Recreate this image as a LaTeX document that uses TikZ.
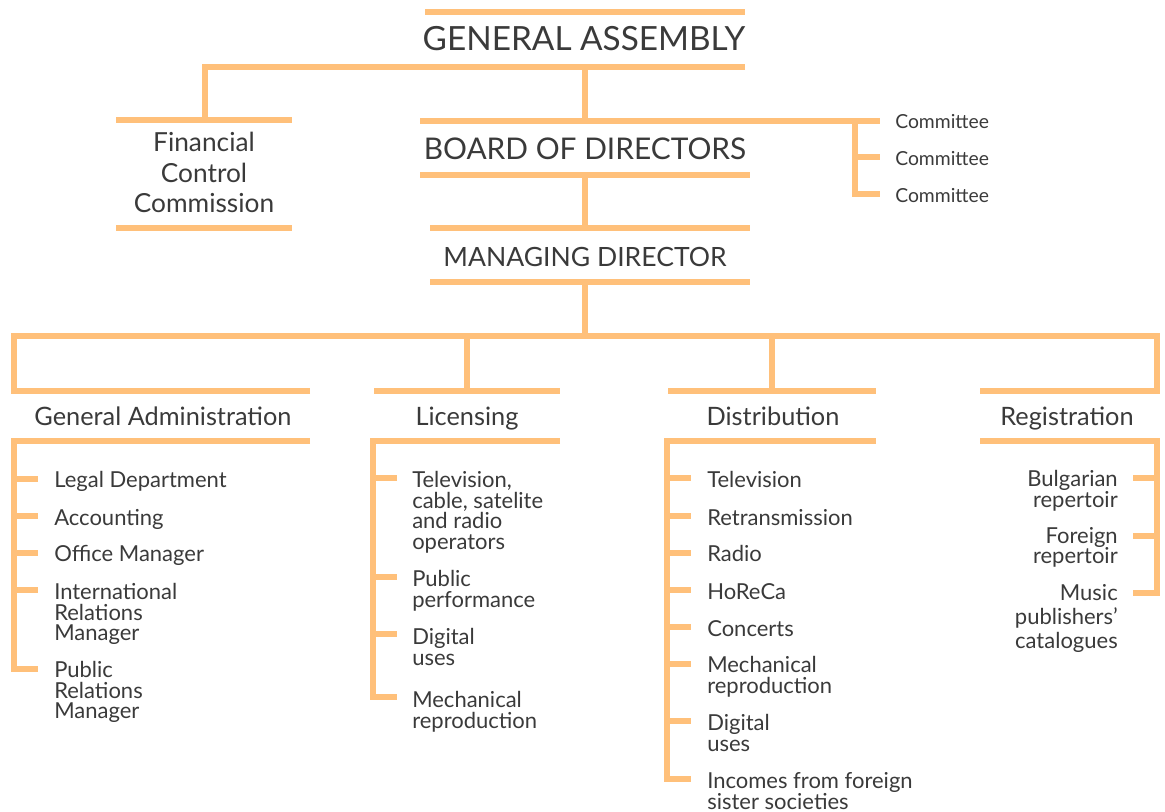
\documentclass[tikz,border=0pt]{standalone}
\usepackage{fontspec}
\setmainfont{Lato}
\definecolor{barc}{RGB}{255,192,122}
\definecolor{txt}{RGB}{58,58,58}
\tikzset{
  bar/.style={draw=barc, line width=4.5pt, line join=miter},
  head/.style={anchor=center, inner sep=0pt, text=txt},
  item/.style={anchor=north west, inner sep=0pt, text=txt, align=left, font=\fontsize{16.5}{15.5}\selectfont},
  ritem/.style={anchor=north east, inner sep=0pt, text=txt, align=right, font=\fontsize{16.5}{15.5}\selectfont},
  sect/.style={anchor=base, inner sep=0pt, text=txt, font=\fontsize{19}{22}\selectfont},
  comm/.style={anchor=base west, inner sep=0pt, text=txt, font=\fontsize{14.5}{17}\selectfont},
}
\begin{document}
\begin{tikzpicture}[x=0.75pt,y=-0.75pt]
\useasboundingbox (0,0) rectangle (1165,812);
% ---------- top hierarchy ----------
\node[head, font=\fontsize{25}{29}\selectfont] (ga) at (584,39) {GENERAL ASSEMBLY};
\node[head, font=\fontsize{22.4}{26}\selectfont] (bod) at (585,149) {BOARD OF DIRECTORS};
\node[head, font=\fontsize{19.9}{23}\selectfont] (md) at (585,257) {MANAGING DIRECTOR};
\node[anchor=north, inner sep=0pt, text=txt, align=center, font=\fontsize{19.7}{22.9}\selectfont] (fcc) at (204,132) {Financial\\Control\\Commission};
\node[comm] (c1) at (895,129) {Committee};
\node[comm] (c2) at (895,166) {Committee};
\node[comm] (c3) at (895,203) {Committee};

\coordinate (gaT1) at (425,12);  \coordinate (gaT2) at (745,12);
\coordinate (gaB1) at (205,67);  \coordinate (gaB2) at (745,67);
\coordinate (fccT1) at (116,120); \coordinate (fccT2) at (292,120);
\coordinate (fccB1) at (116,228); \coordinate (fccB2) at (292,228);
\coordinate (bodT1) at (420,121); \coordinate (bodT2) at (880,121);
\coordinate (bodB1) at (420,175); \coordinate (bodB2) at (750,175);
\coordinate (mdT1) at (430,228); \coordinate (mdT2) at (750,228);
\coordinate (mdB1) at (430,282); \coordinate (mdB2) at (750,282);

\draw[bar] (gaT1) -- (gaT2);
\draw[bar] (gaB2) -- (gaB1) -- (fccT1 -| gaB1);
\draw[bar] (fccT1) -- (fccT2);
\draw[bar] (fccB1) -- (fccB2);
\draw[bar] (585,67) -- (585,121);
\draw[bar] (bodT1) -- (bodT2);
\draw[bar] (855,121) -- (855,194) -- (880,194);
\draw[bar] (855,157) -- (880,157);
\draw[bar] (bodB1) -- (bodB2);
\draw[bar] (585,175) -- (585,228);
\draw[bar] (mdT1) -- (mdT2);
\draw[bar] (mdB1) -- (mdB2);
\draw[bar] (585,282) -- (585,336);

% ---------- departments ----------
\node[sect] (sga) at (163,426) {General Administration};
\node[sect] (slic) at (467,426) {Licensing};
\node[sect] (sdist) at (773,426) {Distribution};
\node[sect] (sreg) at (1067,426) {Registration};

\draw[bar] (310,391) -- (14,391) -- (14,336) -- (1157,336) -- (1157,391) -- (980,391);
\draw[bar] (374,391) -- (560,391);
\draw[bar] (467,336) -- (467,391);
\draw[bar] (668,391) -- (876,391);
\draw[bar] (772,336) -- (772,391);

% General Administration list
\draw[bar] (310,441) -- (14,441) -- (14,669) -- (38,669);
\foreach \y in {479,516,553,590} \draw[bar] (14,\y) -- (38,\y);
\node[item] (g1) at (54,471) {Legal Department};
\node[item] (g2) at (54,509) {Accounting};
\node[item] (g3) at (54,545) {Office Manager};
\node[item] (g4) at (54,583) {International\\Relations\\Manager};
\node[item] (g5) at (54,661) {Public\\Relations\\Manager};

% Licensing list
\draw[bar] (560,441) -- (373,441) -- (373,697) -- (397,697);
\foreach \y in {478,577,634} \draw[bar] (373,\y) -- (397,\y);
\node[item] (l1) at (412,471) {Television,\\cable, satelite\\and radio\\operators};
\node[item] (l2) at (412,570) {Public\\performance};
\node[item] (l3) at (412,628) {Digital\\uses};
\node[item] (l4) at (412,691) {Mechanical\\reproduction};

% Distribution list
\draw[bar] (876,441) -- (667,441) -- (667,779) -- (691,779);
\foreach \y in {478,516,553,590,627,664,721} \draw[bar] (667,\y) -- (691,\y);
\node[item] (d1) at (707,471) {Television};
\node[item] (d2) at (707,509) {Retransmission};
\node[item] (d3) at (707,545) {Radio};
\node[item] (d4) at (707,583) {HoReCa};
\node[item] (d5) at (707,620) {Concerts};
\node[item] (d6) at (707,656) {Mechanical\\reproduction};
\node[item] (d7) at (707,714) {Digital\\uses};
\node[item, font=\fontsize{16.5}{14.8}\selectfont] (d8) at (707,772) {Incomes from foreign\\sister societies};

% Registration list
\draw[bar] (980,441) -- (1157,441) -- (1157,593) -- (1133,593);
\foreach \y in {478,536} \draw[bar] (1133,\y) -- (1157,\y);
\node[ritem] (r1) at (1118,470) {Bulgarian\\repertoir};
\node[ritem] (r2) at (1118,527) {Foreign\\repertoir};
\node[ritem] (r3) at (1118,584) {Music\\[3pt]publishers’\\[2pt]catalogues};
\end{tikzpicture}
\end{document}
